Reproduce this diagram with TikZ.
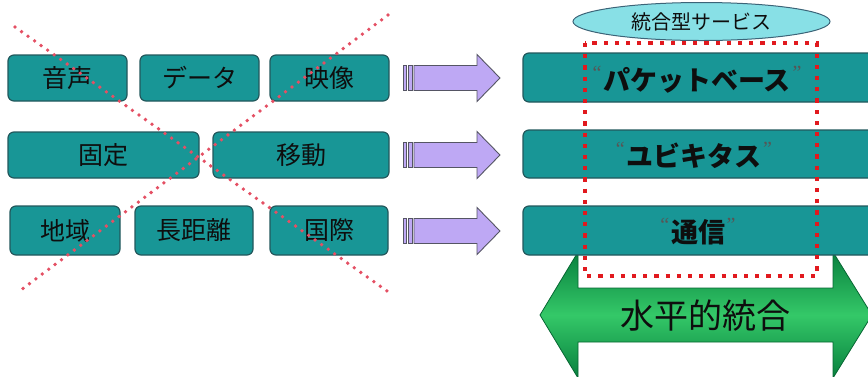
\documentclass[tikz,border=0pt]{standalone}
\usepackage{fontspec}
\newfontfamily\cjk{Noto Sans CJK JP}
\newfontfamily\qfont{Liberation Serif}
\usetikzlibrary{shapes.geometric}
\definecolor{boxfill}{RGB}{24,150,150}
\definecolor{boxline}{RGB}{34,88,92}
\definecolor{arrfill}{RGB}{190,168,244}
\definecolor{arrline}{RGB}{85,85,100}
\definecolor{ellfill}{RGB}{136,224,230}
\definecolor{ellline}{RGB}{60,100,120}
\definecolor{dotred}{RGB}{225,25,30}
\definecolor{xred}{RGB}{228,80,100}
\definecolor{gdark}{RGB}{8,128,62}
\definecolor{glight}{RGB}{52,200,104}
\definecolor{txt}{RGB}{14,14,14}
\tikzset{
  lbox/.style={draw=boxline, fill=boxfill, line width=1.2pt, rounded corners=6pt,
    inner sep=0pt, text=txt, font=\cjk\fontsize{25}{25}\selectfont},
  rbox/.style={draw=boxline, fill=boxfill, line width=1.2pt, rounded corners=6pt, inner sep=0pt},
  rlabel/.style={text=txt, inner sep=0pt, font=\cjk\bfseries\fontsize{27}{27}\selectfont},
  qmark/.style={text=txt!70, font=\qfont\fontsize{20}{20}\selectfont},
  parrow/.style={draw=arrline, fill=arrfill, line width=0.9pt},
  xline/.style={draw=xred, line width=3.8pt, line cap=round, dash pattern=on 0pt off 8pt},
  redrect/.style={draw=dotred, line width=4.2pt, dash pattern=on 4.2pt off 7pt},
}
\begin{document}
\begin{tikzpicture}[x=1pt,y=-1pt]
\useasboundingbox (0,0) rectangle (868,376);
\clip (0,0) rectangle (868,376);
% left boxes
\node[lbox, minimum width=119pt, minimum height=46pt] (a1) at (67.5,78) {音声};
\node[lbox, minimum width=119pt, minimum height=46pt] (a2) at (199.5,78) {データ};
\node[lbox, minimum width=119pt, minimum height=46pt] (a3) at (329.5,78) {映像};
\node[lbox, minimum width=191pt, minimum height=46pt] (b1) at (103.5,155) {固定};
\node[lbox, minimum width=176pt, minimum height=46pt] (b2) at (301,155) {移動};
\node[lbox, minimum width=110pt, minimum height=49pt] (c1) at (65,230.5) {地域};
\node[lbox, minimum width=118pt, minimum height=49pt] (c2) at (194,230.5) {長距離};
\node[lbox, minimum width=118pt, minimum height=49pt] (c3) at (329,230.5) {国際};
% red X
\coordinate (x1s) at (15,27); \coordinate (x1e) at (387,291);
\coordinate (x2s) at (388,15); \coordinate (x2e) at (17,293);
\draw[xline] (x1s) -- (x1e);
\draw[xline] (x2s) -- (x2e);
% purple arrows
\foreach \c in {78,155,231}{
  \draw[parrow] (414,\c-12.5) -- (477,\c-12.5) -- (477,\c-23.5) -- (500,\c) -- (477,\c+23.5) -- (477,\c+12.5) -- (414,\c+12.5) -- cycle;
  \draw[parrow] (403,\c-12.5) rectangle (406,\c+12.5);
  \draw[parrow] (408.5,\c-12.5) rectangle (412,\c+12.5);
}
% green double arrow
\draw[draw=gdark!80!black, line width=0.8pt, top color=gdark, bottom color=gdark, middle color=glight]
  (540,315) -- (578,252) -- (578,288) -- (833,288) -- (833,252) -- (872,315) -- (833,378)
  -- (833,342) -- (578,342) -- (578,378) -- cycle;
\node[text=txt, font=\cjk\fontsize{34}{34}\selectfont] (h) at (705,316) {水平的統合};
% right boxes
\node[rbox, minimum width=357pt, minimum height=49pt] (p1) at (701.5,77.5) {};
\node[rbox, minimum width=357pt, minimum height=48pt] (p2) at (701.5,154) {};
\node[rbox, minimum width=357pt, minimum height=49pt] (p3) at (701.5,230.5) {};
\node[rlabel] (l1) at (697,80) {パケットベース};
\node[qmark, anchor=north east] at ([xshift=2pt,yshift=4pt]l1.north west) {“};
\node[qmark, anchor=north west] at ([xshift=-2pt,yshift=4pt]l1.north east) {”};
\node[rlabel] (l2) at (694,156) {ユビキタス};
\node[qmark, anchor=north east] at ([xshift=2pt,yshift=4pt]l2.north west) {“};
\node[qmark, anchor=north west] at ([xshift=-2pt,yshift=4pt]l2.north east) {”};
\node[rlabel] (l3) at (698,232) {通信};
\node[qmark, anchor=north east] at ([xshift=2pt,yshift=4pt]l3.north west) {“};
\node[qmark, anchor=north west] at ([xshift=-2pt,yshift=4pt]l3.north east) {”};
% ellipse
\node[ellipse, draw=ellline, fill=ellfill, line width=1pt, minimum width=257pt, minimum height=38pt,
  inner sep=0pt, text=txt, font=\cjk\fontsize{20}{20}\selectfont] (e) at (701.5,21.5) {統合型サービス};
% red dotted rectangle
\coordinate (r1) at (585,43); \coordinate (r2) at (817,276);
\draw[redrect] (r1) rectangle (r2);
\end{tikzpicture}
\end{document}
